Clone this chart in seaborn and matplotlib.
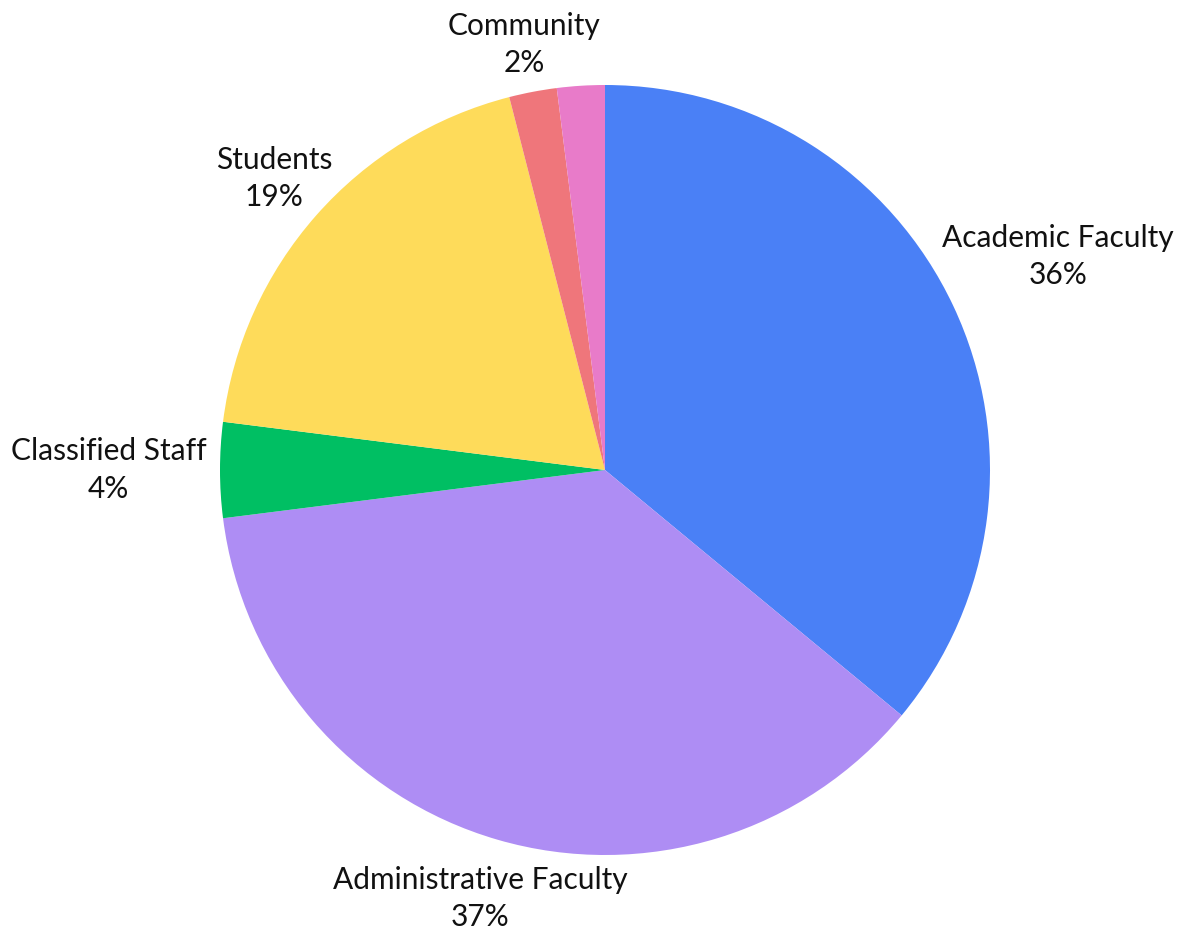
import matplotlib.pyplot as plt
import seaborn as sns
import numpy as np

# data
groups = ['Academic Faculty', 'Administrative Faculty', 'Classified Staff', 'Students', 'Community', 'Other']
shares = [36, 37, 4, 19, 2, 2]
colors = ['#4a80f6', '#ae8df4', '#00bf63', '#fedb5a', '#ef767b', '#e87bc9']
show_label = [True, True, True, True, True, False]
# how far out the label centre sits (in radii)
label_r = [1.30, 1.16, 1.29, 1.145, 1.125, 1.125]

sns.set_theme(style='white')
plt.rcParams['font.family'] = ['Lato', 'DejaVu Sans']

fig = plt.figure(figsize=(11.83, 9.38), dpi=100)
ax = fig.add_axes([0, 0, 1, 1])
wedges, _ = ax.pie(shares, colors=colors, startangle=90, counterclock=False,
                   radius=1, wedgeprops=dict(linewidth=0))

for w, name, v, show, r in zip(wedges, groups, shares, show_label, label_r):
    if not show:
        continue
    mid = np.deg2rad((w.theta1 + w.theta2) / 2)
    ax.text(r * np.cos(mid), r * np.sin(mid), f'{name}\n{v}%', ha='center', va='center',
            fontsize=21.5, color='#111111', linespacing=1.4)

ax.set_xlim(-605 / 385, (1183 - 605) / 385)
ax.set_ylim(-468 / 385, 470 / 385)
ax.set_axis_off()
fig.savefig('out.png', dpi=100)
